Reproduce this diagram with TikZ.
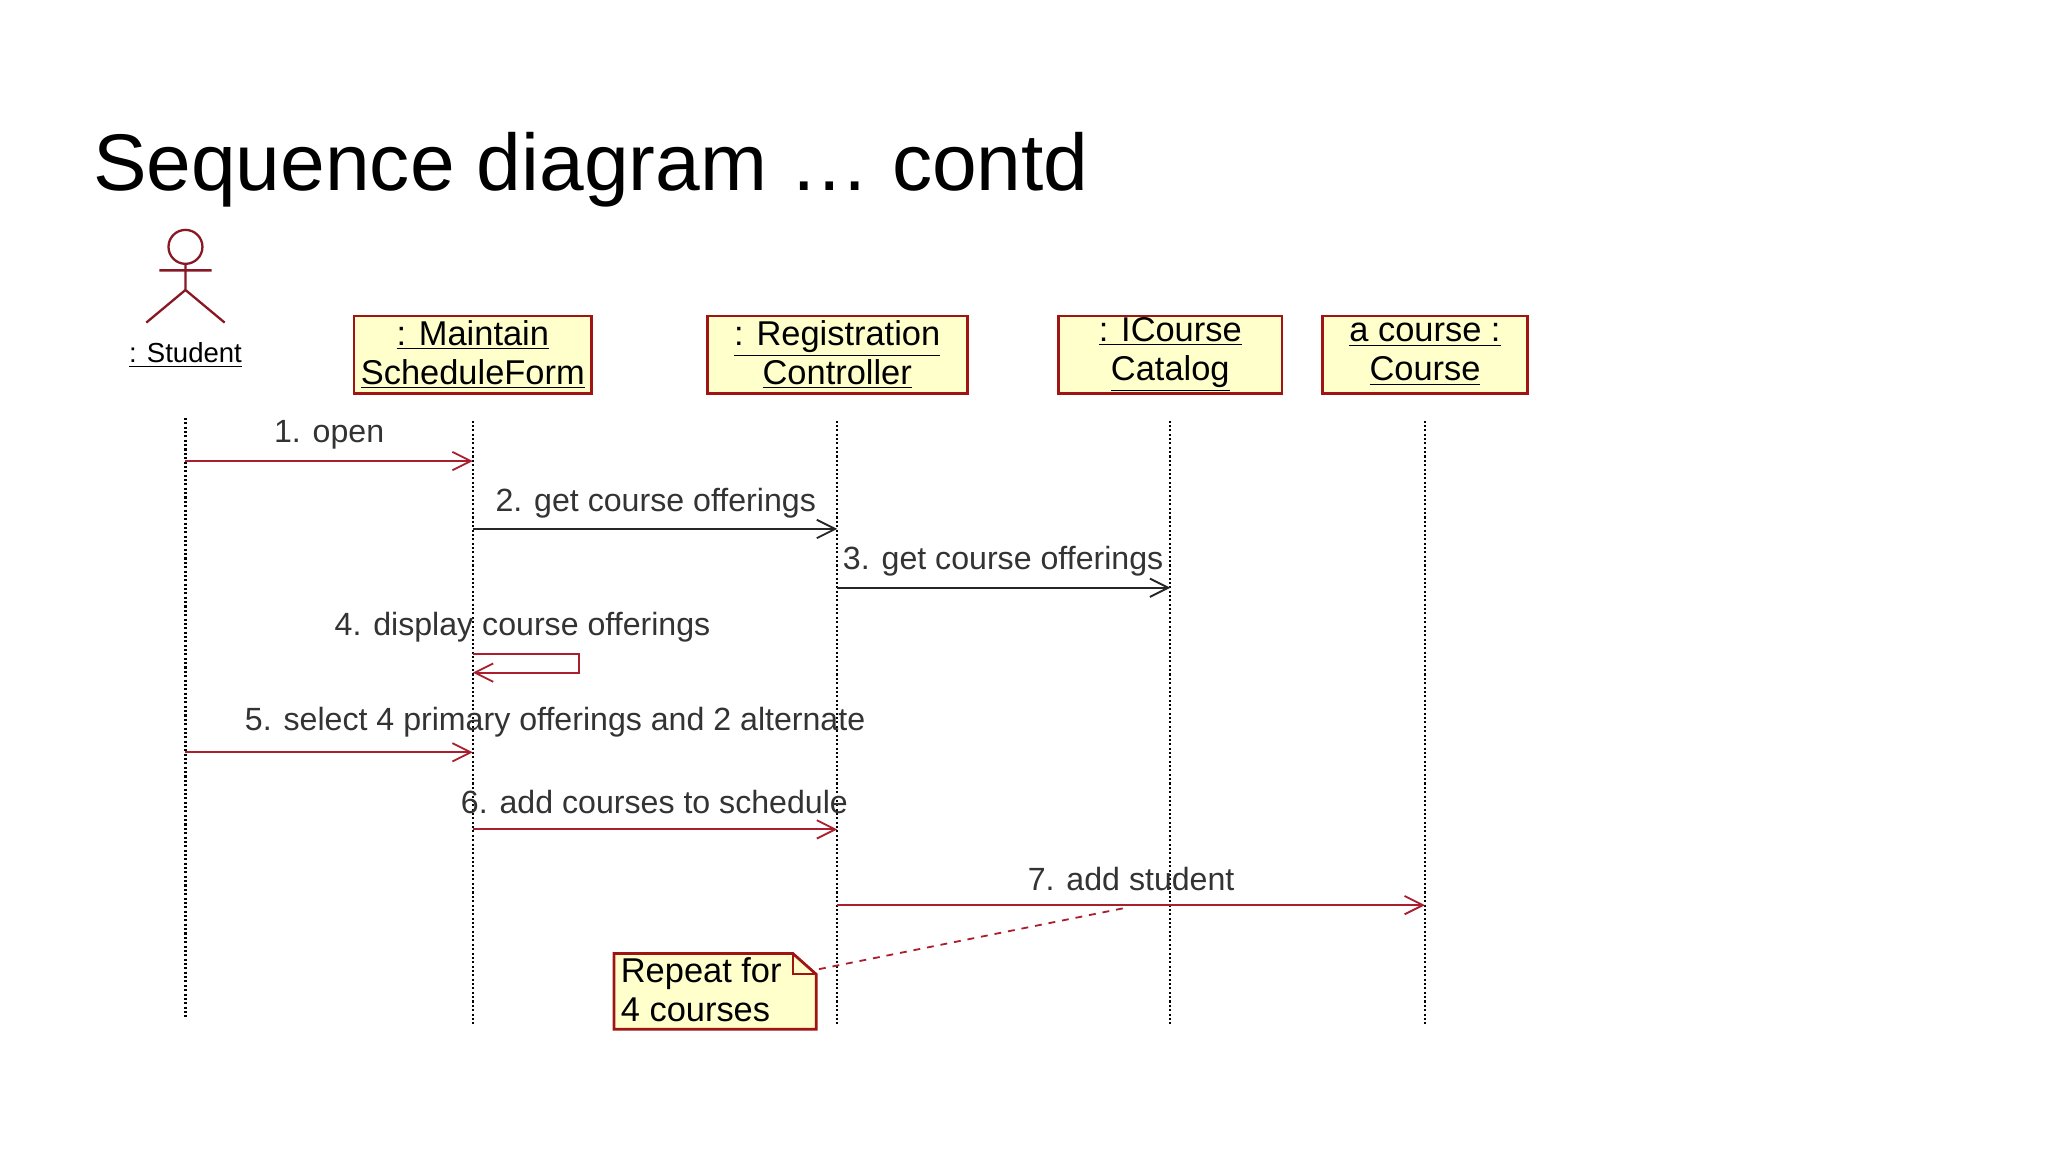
\documentclass[tikz,border=0pt]{standalone}
\usepackage{fontspec}
\setmainfont{Liberation Sans}
\usetikzlibrary{arrows.meta}
\definecolor{umlred}{RGB}{170,30,45}
\definecolor{boxfill}{RGB}{255,255,204}
\definecolor{boxline}{RGB}{160,20,20}
\begin{document}
\begin{tikzpicture}[x=0.02cm,y=-0.02cm,
  obj/.style={draw=boxline,fill=boxfill,line width=1.2pt,minimum height=59*0.02cm,align=center,font=\fontsize{15}{17}\selectfont,inner sep=0pt},
  life/.style={densely dotted,line width=0.9pt},
  msg/.style={line width=0.8pt,-{Straight Barb[length=8pt,width=8pt]}},
  lbl/.style={font=\fontsize{14}{16}\selectfont,text=black!80}]
\useasboundingbox[fill=white] (0,0) rectangle (1568,882);
\node[anchor=west,font=\fontsize{35}{40}\selectfont] (title) at (65,130) {Sequence diagram … contd};
% actor
\begin{scope}[umlred!80!black,line width=1pt]
\draw (142,189) circle[radius=13*0.02cm];
\draw (142,202) -- (142,222) (122,207) -- (162,207) (112,247) -- (142,222) -- (172,247);
\end{scope}
\node[font=\fontsize{12}{14}\selectfont] (stu) at (142,272) {\underline{: Student}};
% objects
\node[obj,minimum width=182*0.02cm] (msf) at (362,271.5) {\underline{: Maintain}\\\underline{ScheduleForm}};
\node[obj,minimum width=199*0.02cm] (rc) at (641,271.5) {\underline{: Registration}\\\underline{Controller}};
\node[obj,minimum width=171*0.02cm] (icc) at (896,271.5) {\underline{: ICourse}\\\underline{Catalog}};
\node[obj,minimum width=157*0.02cm] (ac) at (1091,271.5) {\underline{a course :}\\\underline{Course}};
% lifelines
\coordinate (s0) at (142,320); \coordinate (s1) at (142,780);
\coordinate (m0) at (362,322); \coordinate (m1) at (362,785);
\coordinate (r0) at (641,322); \coordinate (r1) at (641,785);
\coordinate (i0) at (896,322); \coordinate (i1) at (896,785);
\coordinate (c0) at (1091,322); \coordinate (c1) at (1091,785);
\draw[life] (s0) -- (s1); \draw[life] (m0) -- (m1); \draw[life] (r0) -- (r1);
\draw[life] (i0) -- (i1); \draw[life] (c0) -- (c1);
% messages
\coordinate (a1) at (142,353); \coordinate (b1) at (362,353);
\draw[msg,umlred] (a1) -- (b1); \node[lbl] (l1) at (252,333) {1. open};
\coordinate (a2) at (362,405); \coordinate (b2) at (641,405);
\draw[msg,black!85] (a2) -- (b2); \node[lbl] (l2) at (502,385) {2. get course offerings};
\coordinate (a3) at (641,450); \coordinate (b3) at (896,450);
\draw[msg,black!85] (a3) -- (b3); \node[lbl] (l3) at (768,430) {3. get course offerings};
\coordinate (a4) at (362,501); \coordinate (b4) at (362,515);
\draw[msg,umlred] (a4) -- (443,501) -- (443,515) -- (b4); \node[lbl] (l4) at (400,480) {4. display course offerings};
\coordinate (a5) at (142,576); \coordinate (b5) at (362,576);
\draw[msg,umlred] (a5) -- (b5); \node[lbl] (l5) at (425,553) {5. select 4 primary offerings and 2 alternate};
\coordinate (a6) at (362,635); \coordinate (b6) at (641,635);
\draw[msg,umlred] (a6) -- (b6); \node[lbl] (l6) at (501,614) {6. add courses to schedule};
\coordinate (a7) at (641,693); \coordinate (b7) at (1091,693);
\draw[msg,umlred] (a7) -- (b7); \node[lbl] (l7) at (866,673) {7. add student};
% note
\draw[draw=boxline,fill=boxfill,line width=1.2pt] (470,730) -- (607,730) -- (625,746) -- (625,788) -- (470,788) -- cycle;
\draw[boxline,line width=0.8pt] (607,730) -- (607,746) -- (625,746);
\node[anchor=north west,align=left,font=\fontsize{15}{17}\selectfont,inner sep=0pt] (note) at (475,733) {Repeat for\\4 courses};
\coordinate (n0) at (627,742); \coordinate (n1) at (862,695);
\draw[umlred,dashed,line width=0.8pt] (n0) -- (n1);
\end{tikzpicture}
\end{document}
